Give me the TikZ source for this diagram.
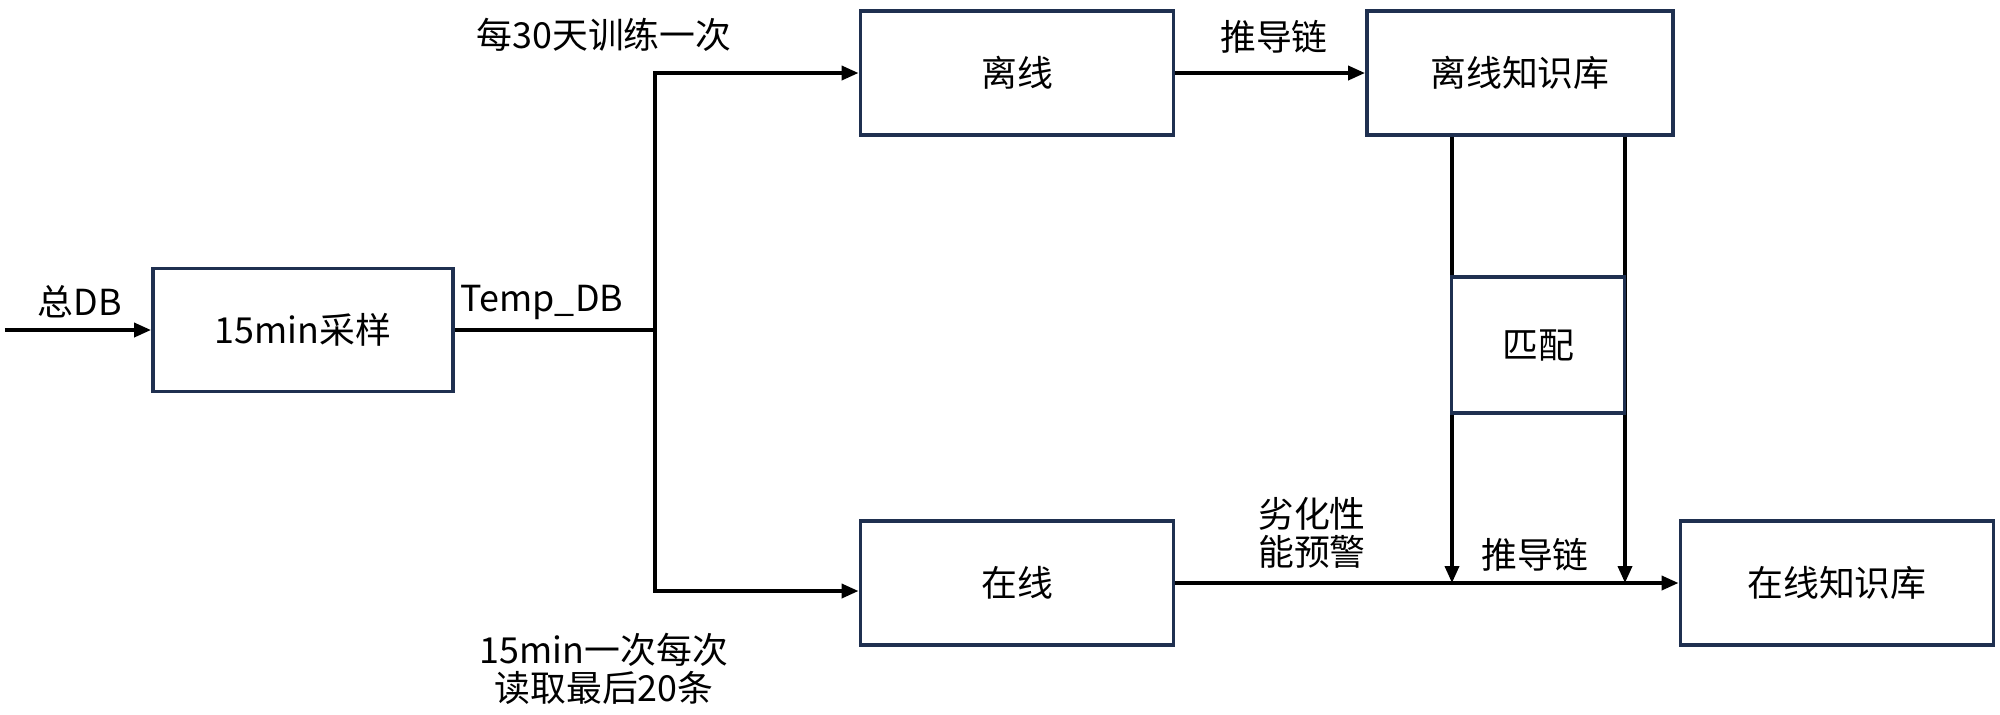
\documentclass[tikz,border=0pt]{standalone}
\usepackage{fontspec}
\setmainfont{Noto Sans CJK SC}
\usetikzlibrary{arrows.meta}
\definecolor{boxblue}{HTML}{1F3050}

\begin{document}
\begin{tikzpicture}[
             x                = 0.1mm,
             y                = -0.1mm,
             font             = \fontsize{10.2}{10.7}\selectfont,
             box/.style       = {draw=boxblue, line width=1.1pt, fill=white, inner sep=0pt},
             wire/.style      = {line width=1.05pt},
             flow/.style      = {wire, -{Triangle[length=1.7mm, width=1.4mm]}},
             lbl/.style       = {align=center, inner sep=0pt}]
             \useasboundingbox (0,0) rectangle (2000,714);
             \node [box, minimum width=30mm,   minimum height=12.3mm] (sample)  at (303,330)  {15min采样};
             \node [box, minimum width=31.3mm, minimum height=12.4mm] (offline) at (1017,73)  {离线};
             \node [box, minimum width=30.6mm, minimum height=12.4mm] (offkb)   at (1520,73)  {离线知识库};
             \node [box, minimum width=31.3mm, minimum height=12.4mm] (online)  at (1017,583) {在线};
             \node [box, minimum width=31.3mm, minimum height=12.4mm] (onkb)    at (1837,583) {在线知识库};
             \coordinate (src)   at (5,330);
             \coordinate (fork)  at (655,330);
             \coordinate (dropL) at (1452,583);
             \coordinate (dropR) at (1625,583);
             \draw [flow] (src) -- (sample);
             \draw [wire] (sample) -- (fork);
             \draw [flow] (fork) |- (offline);
             \draw [flow] (fork) |- ([yshift=-0.8mm]online.west);
             \draw [flow] (offline) -- (offkb);
             \draw [flow] (offkb.south -| dropL) -- (dropL);
             \draw [flow] (offkb.south -| dropR) -- (dropR);
             \draw [flow] (online) -- (onkb);
             \node [box, minimum width=17.3mm, minimum height=13.6mm] (match) at (1538,345) {匹配};
             \node [lbl] (lblTotal)    at (80,302)   {总DB};
             \node [lbl] (lblTemp)     at (542,302)  {Temp\_DB};
             \node [lbl] (lblTrain)    at (604,35)   {每30天训练一次};
             \node [lbl] (lblChainTop) at (1274,37)  {推导链};
             \node [lbl] (lblRead)     at (604,669)  {15min一次每次\\读取最后20条};
             \node [lbl] (lblWarn)     at (1312,533) {劣化性\\能预警};
             \node [lbl] (lblChainBot) at (1535,555) {推导链};
    \end{tikzpicture}
\end{document}
